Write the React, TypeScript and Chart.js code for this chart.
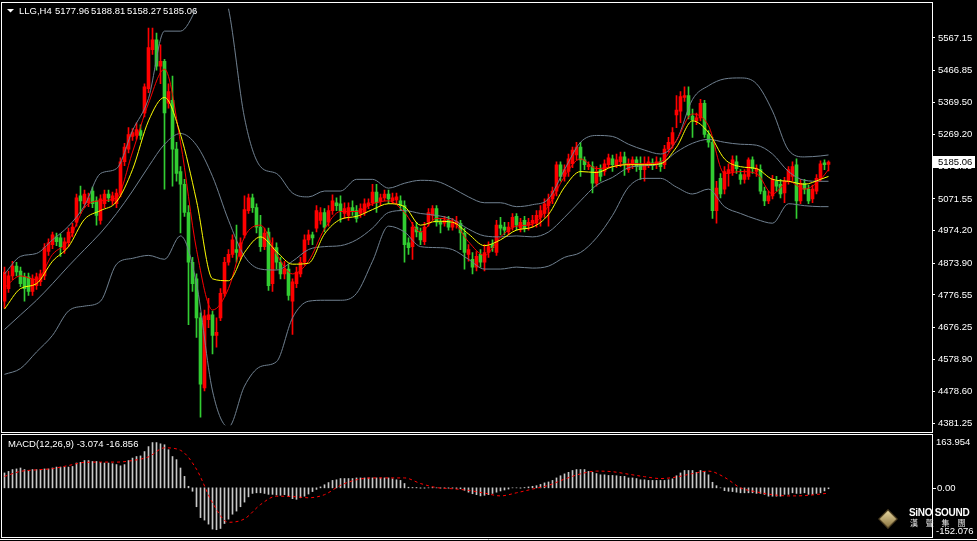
import React, { useEffect, useRef } from 'react';
import { Chart, registerables } from 'chart.js';

Chart.register(...registerables);

// ---------- text ----------
const symbolTitle = 'LLG,H4';
const lastQuote = ['5177.96', '5188.81', '5158.27', '5185.06'];
const macdTitle = 'MACD(12,26,9) -3.074 -16.856';
const logoLatin = 'SiNO SOUND';
const logoCjk = '漢 聲 集 團';

// ---------- candles (H4 bars, oldest first) ----------
const openP = [
  4757, 4796, 4835, 4865, 4850, 4832, 4832, 4787, 4805, 4817,
  4835, 4910, 4931, 4955, 4952, 4916, 4937, 4967, 5000, 5081,
  5057, 5060, 5096, 5066, 5006, 5057, 5087, 5066, 5057, 5090,
  5186, 5225, 5264, 5267, 5282, 5336, 5411, 5531, 5561, 5480,
  5495, 5366, 5375, 5225, 5156, 5117, 5030, 4877, 4826, 4706,
  4490, 4700, 4715, 4652, 4706, 4781, 4877, 4901, 4916, 4895,
  4961, 5036, 5075, 5045, 4985, 4925, 4970, 4811, 4922, 4877,
  4841, 4856, 4757, 4811, 4841, 4877, 4946, 4961, 4982, 5006,
  5030, 5000, 5036, 5060, 5057, 5027, 5021, 5045, 5036, 5027,
  5030, 5051, 5060, 5093, 5066, 5075, 5087, 5066, 5069, 5066,
  5051, 4937, 4925, 4985, 4970, 4940, 5000, 5021, 5042, 5000,
  4997, 5006, 4985, 4994, 4997, 4967, 4901, 4886, 4862, 4901,
  4877, 4907, 4931, 4907, 4991, 4985, 4970, 4985, 5018, 4982,
  5006, 4991, 4997, 4997, 5015, 5027, 5051, 5072, 5096, 5177,
  5141, 5156, 5180, 5207, 5231, 5192, 5171, 5171, 5120, 5162,
  5156, 5177, 5195, 5177, 5186, 5201, 5162, 5177, 5192, 5177,
  5162, 5177, 5183, 5177, 5186, 5177, 5225, 5240, 5330, 5342,
  5384, 5390, 5327, 5312, 5321, 5366, 5270, 5246, 5036, 5135,
  5102, 5150, 5156, 5186, 5147, 5132, 5141, 5192, 5156, 5162,
  5096, 5066, 5081, 5126, 5117, 5090, 5126, 5141, 5177, 5066,
  5120, 5102, 5072, 5096, 5135, 5183, 5177.96,
];
const highP = [
  4862, 4850, 4880, 4877, 4862, 4844, 4844, 4838, 4844, 4853,
  4934, 4949, 4970, 4967, 4964, 4952, 4982, 4997, 5087, 5111,
  5099, 5090, 5108, 5078, 5084, 5099, 5099, 5093, 5102, 5198,
  5243, 5291, 5288, 5306, 5300, 5426, 5597, 5597, 5582, 5546,
  5501, 5426, 5450, 5246, 5171, 5132, 5051, 4892, 4841, 4721,
  4730, 4766, 4727, 4706, 4796, 4892, 4916, 4961, 4991, 4952,
  5081, 5087, 5087, 5057, 5021, 4982, 4982, 4952, 4937, 4892,
  4880, 4871, 4826, 4862, 4892, 4961, 4976, 4970, 5051, 5045,
  5042, 5051, 5084, 5075, 5081, 5060, 5060, 5066, 5051, 5057,
  5072, 5072, 5117, 5117, 5087, 5099, 5099, 5090, 5090, 5081,
  5066, 4952, 5000, 5000, 4982, 5000, 5042, 5051, 5051, 5012,
  5018, 5018, 5012, 5018, 5006, 4982, 4931, 4907, 4910, 4916,
  4931, 4940, 4946, 5006, 5015, 5000, 5000, 5027, 5027, 5012,
  5018, 5012, 5021, 5036, 5051, 5072, 5087, 5108, 5186, 5186,
  5177, 5210, 5231, 5246, 5246, 5201, 5186, 5186, 5171, 5177,
  5192, 5210, 5207, 5210, 5216, 5216, 5195, 5201, 5201, 5201,
  5201, 5201, 5195, 5201, 5198, 5237, 5261, 5291, 5390, 5402,
  5417, 5417, 5348, 5336, 5378, 5375, 5282, 5261, 5126, 5150,
  5171, 5180, 5204, 5204, 5162, 5162, 5198, 5201, 5177, 5177,
  5108, 5096, 5144, 5141, 5132, 5138, 5171, 5186, 5195, 5132,
  5132, 5114, 5114, 5147, 5189, 5192, 5188.81,
];
const lowP = [
  4736, 4784, 4823, 4835, 4802, 4757, 4775, 4775, 4793, 4805,
  4823, 4898, 4919, 4928, 4895, 4904, 4925, 4955, 4988, 5027,
  5045, 5048, 5045, 4991, 4994, 5045, 5063, 5054, 5045, 5078,
  5174, 5213, 5252, 5255, 5255, 5324, 5399, 5516, 5468, 5426,
  5102, 5351, 5111, 5126, 4967, 5018, 4685, 4787, 4646, 4400,
  4481, 4676, 4595, 4616, 4697, 4772, 4868, 4892, 4877, 4886,
  4952, 5027, 5030, 4967, 4910, 4916, 4790, 4787, 4856, 4826,
  4826, 4760, 4655, 4799, 4832, 4868, 4931, 4931, 4970, 4994,
  4970, 4988, 5024, 5036, 5000, 5012, 5006, 5021, 5000, 5015,
  5021, 5042, 5051, 5030, 5051, 5066, 5057, 5057, 5057, 5036,
  4877, 4901, 4886, 4955, 4931, 4931, 4988, 5006, 4988, 4967,
  4988, 4976, 4976, 4982, 4916, 4856, 4880, 4841, 4850, 4862,
  4850, 4892, 4910, 4898, 4961, 4961, 4961, 4976, 4976, 4970,
  4970, 4976, 4985, 4985, 4988, 5015, 4988, 5057, 5081, 5126,
  5126, 5141, 5168, 5192, 5141, 5162, 5162, 5090, 5111, 5126,
  5144, 5168, 5156, 5168, 5171, 5144, 5153, 5165, 5156, 5132,
  5126, 5168, 5162, 5165, 5156, 5165, 5216, 5228, 5291, 5306,
  5372, 5318, 5261, 5300, 5312, 5261, 5231, 5012, 4997, 5075,
  5087, 5111, 5144, 5150, 5117, 5120, 5132, 5150, 5141, 5087,
  5051, 5057, 5072, 5096, 5075, 5060, 5117, 5126, 5012, 5057,
  5087, 5057, 5060, 5087, 5126, 5162, 5158.27,
];
const closeP = [
  4847, 4835, 4865, 4847, 4811, 4796, 4787, 4826, 4832, 4841,
  4922, 4937, 4961, 4940, 4925, 4940, 4970, 4985, 5075, 5066,
  5087, 5075, 5057, 5021, 5072, 5087, 5075, 5081, 5090, 5186,
  5231, 5270, 5276, 5285, 5267, 5417, 5537, 5561, 5480, 5495,
  5336, 5402, 5225, 5150, 5117, 5030, 4877, 4811, 4706, 4502,
  4712, 4715, 4652, 4661, 4781, 4877, 4901, 4946, 4907, 4937,
  5039, 5075, 5045, 4985, 4925, 4967, 4805, 4922, 4877, 4841,
  4856, 4775, 4817, 4847, 4877, 4946, 4961, 4952, 5036, 5030,
  4985, 5036, 5066, 5051, 5036, 5042, 5045, 5036, 5012, 5042,
  5057, 5060, 5093, 5060, 5075, 5087, 5072, 5075, 5078, 5051,
  4931, 4922, 4985, 4970, 4946, 4985, 5030, 5042, 5000, 4994,
  5006, 4985, 4997, 5003, 4967, 4907, 4916, 4862, 4895, 4877,
  4907, 4925, 4922, 4991, 4982, 4976, 4985, 5015, 4991, 5000,
  4982, 5000, 5006, 5021, 5036, 5057, 5072, 5096, 5177, 5141,
  5162, 5195, 5222, 5231, 5192, 5177, 5177, 5120, 5156, 5141,
  5180, 5198, 5177, 5192, 5201, 5177, 5177, 5192, 5171, 5162,
  5177, 5186, 5174, 5186, 5171, 5225, 5246, 5276, 5345, 5387,
  5390, 5330, 5315, 5321, 5366, 5270, 5246, 5036, 5105, 5087,
  5156, 5162, 5192, 5165, 5132, 5147, 5192, 5165, 5165, 5096,
  5066, 5081, 5132, 5111, 5087, 5126, 5162, 5171, 5066, 5120,
  5102, 5066, 5102, 5135, 5180, 5177, 5185.06,
];

// ---------- indicator lines, read at these bar indices ----------
const lineIdx = [
  0, 4, 8, 12, 16, 20, 24, 28, 32, 36, 40, 44, 48, 52, 56, 60, 64, 68, 72, 76,
  80, 84, 88, 92, 96, 100, 104, 108, 112, 116, 120, 124, 128, 132, 136, 140, 144, 148, 152, 156,
  160, 164, 168, 172, 176, 180, 184, 188, 192, 196, 200, 204, 206,
];
const bbUpper = [
  4841, 4895, 4904, 4946, 4988, 5051, 5150, 5165, 5282, 5381, 5588, 5588, 5660, 5786, 5657, 5321, 5171, 5150, 5090, 5078,
  5096, 5096, 5132, 5132, 5105, 5120, 5129, 5126, 5105, 5078, 5060, 5060, 5048, 5054, 5072, 5162, 5246, 5267, 5264, 5240,
  5222, 5210, 5252, 5378, 5420, 5441, 5444, 5426, 5342, 5222, 5201, 5204, 5207,
];
const bbMiddle = [
  4670, 4715, 4760, 4811, 4865, 4916, 4967, 5027, 5096, 5171, 5240, 5273, 5237, 5141, 5006, 4895, 4856, 4853, 4880, 4916,
  4925, 4928, 4946, 4982, 5030, 5036, 5027, 5021, 5009, 4979, 4958, 4955, 4958, 4955, 4970, 5015, 5066, 5114, 5138, 5168,
  5174, 5180, 5216, 5243, 5255, 5246, 5240, 5237, 5210, 5156, 5129, 5126, 5126,
];
const bbLower = [
  4532, 4550, 4601, 4652, 4727, 4742, 4757, 4871, 4889, 4898, 4886, 4958, 4811, 4481, 4370, 4496, 4556, 4571, 4706, 4757,
  4760, 4760, 4781, 4880, 4988, 4970, 4925, 4922, 4916, 4886, 4856, 4856, 4862, 4859, 4865, 4892, 4907, 4952, 5021, 5108,
  5135, 5135, 5108, 5087, 5102, 5048, 5027, 5009, 4997, 5057, 5051, 5048, 5048,
];
const maFast = [
  4799, 4835, 4823, 4901, 4943, 5045, 5066, 5075, 5216, 5366, 5471, 5246, 4916, 4730, 4796, 4955, 4991, 4901, 4841, 4880,
  4979, 5033, 5033, 5057, 5066, 5030, 4970, 5012, 5003, 4940, 4898, 4955, 4988, 4994, 5051, 5141, 5195, 5165, 5171, 5180,
  5180, 5186, 5252, 5333, 5297, 5150, 5156, 5150, 5087, 5126, 5102, 5132, 5162,
];
const maSlow = [
  4733, 4796, 4811, 4880, 4925, 5009, 5036, 5063, 5162, 5312, 5384, 5270, 5066, 4826, 4820, 4907, 4955, 4910, 4871, 4874,
  4964, 5009, 5018, 5039, 5057, 5048, 4991, 5003, 5000, 4964, 4928, 4946, 4976, 4985, 5024, 5108, 5156, 5153, 5171, 5177,
  5177, 5180, 5231, 5312, 5276, 5195, 5171, 5165, 5132, 5126, 5117, 5132, 5141,
];

// ---------- MACD(12,26,9) ----------
const macdHist = [
  48, 53, 59, 61, 64, 59, 56, 59, 59, 59, 61, 61, 64, 67, 67, 67, 67, 69, 80, 82,
  88, 88, 85, 85, 82, 80, 80, 78, 75, 71, 75, 88, 96, 101, 103, 117, 133, 146, 146, 142,
  139, 123, 101, 91, 64, 37, 5, -11, -61, -96, -104, -117, -133, -135, -131, -115, -101, -85, -75, -61,
  -46, -29, -18, -16, -16, -18, -21, -21, -23, -24, -22, -27, -35, -37, -32, -27, -20, -12, -5, 3,
  10, 17, 24, 26, 30, 30, 30, 30, 32, 32, 32, 32, 32, 32, 32, 32, 32, 29, 26, 24,
  14, 2, 1, 1, -1, -1, 0, 1, 0, -1, -1, -1, -1, -2, -3, -8, -14, -19, -22, -26,
  -24, -22, -18, -14, -10, -7, -4, 0, 0, -1, 1, 3, 5, 7, 11, 16, 19, 24, 32, 39,
  45, 50, 56, 59, 59, 59, 53, 50, 46, 42, 42, 40, 40, 39, 37, 37, 32, 32, 30, 26,
  26, 24, 24, 24, 24, 24, 26, 29, 39, 48, 56, 56, 56, 50, 56, 53, 42, 18, 7, 0,
  -9, -11, -12, -14, -16, -16, -16, -16, -18, -18, -21, -27, -27, -27, -27, -21, -21, -16, -18, -18,
  -16, -21, -21, -18, -16, -10, -3.074,
];
const macdSignal = [
  37, 53, 58, 62, 72, 82, 83, 83, 88, 100, 129, 121, 60, -48, -111, -100, -54, -27, -28, -32,
  -22, 8, 26, 32, 32, 32, 14, 1, -3, -8, -17, -26, -16, -4, 8, 28, 45, 54, 52, 44,
  36, 30, 35, 46, 54, 34, 0, -13, -22, -26, -25, -20, -16.856,
];

// ---------- axes ----------
const priceTicks = [5567.15, 5466.85, 5369.5, 5269.2, 5171.85, 5071.55, 4974.2, 4873.9, 4776.55, 4676.25, 4578.9, 4478.6, 4381.25];
const priceMin = 4375.3;
const priceMax = 5657.0;
const macdMax = 163.954;
const macdMin = -152.076;
const macdLabels = ['163.954', '0.00', '-152.076'];
const barMin = -0.375;
const barMax = 231.875;

const RED = '#ff0000';
const GREEN = '#32cd32';
const BAND = '#708090';
const FONT = "'Liberation Sans', Arial, sans-serif";
const FSIZE = 9.5;

export default function App() {
  const mainRef = useRef<HTMLCanvasElement>(null);
  const macdRef = useRef<HTMLCanvasElement>(null);

  useEffect(() => {
    document.body.style.margin = '0';
    document.body.style.background = '#000';
    const idx = closeP.map((_, i) => i);
    const colors = idx.map((i) => (closeP[i] >= openP[i] ? RED : GREEN));
    const line = (vals: number[], color: string, order: number, extra: any = {}) => ({
      type: 'line',
      data: lineIdx.map((x, k) => ({ x, y: vals[k] })),
      borderColor: color,
      borderWidth: 1,
      pointRadius: 0,
      cubicInterpolationMode: 'monotone',
      order,
      ...extra,
    });

    const mainDecor = {
      id: 'mainDecor',
      afterDraw(chart: any) {
        const { ctx } = chart;
        ctx.save();
        ctx.strokeStyle = '#ffffff';
        ctx.lineWidth = 1;
        ctx.strokeRect(1.5, 2.5, 931, 430);
        ctx.fillStyle = '#ffffff';
        ctx.beginPath();
        ctx.moveTo(7, 9);
        ctx.lineTo(14, 9);
        ctx.lineTo(10.5, 12.5);
        ctx.closePath();
        ctx.fill();
        ctx.font = `${FSIZE}px ${FONT}`;
        ctx.textBaseline = 'middle';
        ctx.textAlign = 'left';
        ctx.fillText(symbolTitle, 19, 11);
        lastQuote.forEach((q, k) => ctx.fillText(q, 55 + k * 36, 11));
        const last = closeP[closeP.length - 1];
        const y = Math.round(chart.scales.y.getPixelForValue(last));
        ctx.fillStyle = '#ffffff';
        ctx.fillRect(933, y - 6, 42, 12);
        ctx.fillStyle = '#000000';
        ctx.fillText(last.toFixed(2), 938, y + 0.5);
        ctx.restore();
      },
    };

    const main = new Chart(mainRef.current as HTMLCanvasElement, {
      type: 'bar',
      data: {
        datasets: [
          line(bbUpper, BAND, 1),
          line(bbMiddle, BAND, 1),
          line(bbLower, BAND, 1),
          line(maSlow, '#ffff00', 0),
          line(maFast, RED, 0),
          {
            type: 'bar',
            data: idx.map((i) => ({ x: i, y: [lowP[i], highP[i]] })),
            backgroundColor: colors,
            barThickness: 1,
            grouped: false,
            borderWidth: 0,
            order: 3,
          },
          {
            type: 'bar',
            data: idx.map((i) => ({ x: i, y: [Math.min(openP[i], closeP[i]), Math.max(openP[i], closeP[i])] })),
            backgroundColor: colors,
            barThickness: 3,
            grouped: false,
            borderWidth: 0,
            order: 2,
          },
        ] as any,
      },
      options: {
        animation: false,
        responsive: false,
        maintainAspectRatio: false,
        devicePixelRatio: 1,
        events: [],
        layout: { padding: { left: 3, right: 0, top: 3, bottom: 3 } },
        plugins: { legend: { display: false }, tooltip: { enabled: false }, title: { display: false } },
        scales: {
          x: { type: 'linear', min: barMin, max: barMax, display: false, offset: false, grid: { offset: false } },
          y: {
            type: 'linear',
            position: 'right',
            min: priceMin,
            max: priceMax,
            beginAtZero: false,
            afterBuildTicks: (s: any) => {
              s.ticks = priceTicks.map((v) => ({ value: v }));
            },
            afterFit: (s: any) => {
              s.width = 45;
            },
            ticks: {
              autoSkip: false,
              color: '#ffffff',
              padding: 3,
              font: { family: FONT, size: FSIZE },
              callback: (v: any) => Number(v).toFixed(2),
            },
            grid: { drawOnChartArea: false, drawTicks: true, tickLength: 3, color: '#ffffff' },
            border: { display: false },
          },
        },
      } as any,
      plugins: [mainDecor],
    });

    const macdDecor = {
      id: 'macdDecor',
      afterDraw(chart: any) {
        const { ctx } = chart;
        const ys = chart.scales.y;
        ctx.save();
        ctx.strokeStyle = '#ffffff';
        ctx.lineWidth = 1;
        ctx.strokeRect(1.5, 1.5, 931, 103);
        ctx.beginPath();
        ctx.moveTo(0, 106.5);
        ctx.lineTo(977, 106.5);
        ctx.stroke();
        ctx.fillStyle = '#ffffff';
        ctx.font = `${FSIZE}px ${FONT}`;
        ctx.textBaseline = 'middle';
        ctx.textAlign = 'left';
        ctx.fillText(macdTitle, 8, 11);
        const y0 = Math.round(ys.getPixelForValue(0));
        ctx.fillRect(933, y0, 3, 1);
        ctx.fillText(macdLabels[0], 936, Math.round(ys.getPixelForValue(macdMax)) + 5);
        ctx.fillText(macdLabels[1], 937, y0 + 0.5);
        ctx.fillText(macdLabels[2], 936, Math.round(ys.getPixelForValue(macdMin)) - 4);
        ctx.restore();
      },
    };

    const macd = new Chart(macdRef.current as HTMLCanvasElement, {
      type: 'bar',
      data: {
        datasets: [
          line(macdSignal, RED, 0, { borderDash: [3, 3] }),
          {
            type: 'bar',
            data: idx.map((i) => ({ x: i, y: macdHist[i] })),
            backgroundColor: '#c8c8c8',
            barThickness: 1,
            grouped: false,
            borderWidth: 0,
            order: 1,
          },
        ] as any,
      },
      options: {
        animation: false,
        responsive: false,
        maintainAspectRatio: false,
        devicePixelRatio: 1,
        events: [],
        layout: { padding: { left: 3, right: 45, top: 4, bottom: 6 } },
        plugins: { legend: { display: false }, tooltip: { enabled: false }, title: { display: false } },
        scales: {
          x: { type: 'linear', min: barMin, max: barMax, display: false, offset: false, grid: { offset: false } },
          y: { type: 'linear', min: macdMin, max: macdMax, display: false, beginAtZero: false },
        },
      } as any,
      plugins: [macdDecor],
    });

    return () => {
      main.destroy();
      macd.destroy();
    };
  }, []);

  return (
    <div style={{ position: 'relative', width: 977, height: 541, background: '#000', overflow: 'hidden' }}>
      <canvas ref={mainRef} width={977} height={434} style={{ position: 'absolute', left: 0, top: 0, display: 'block' }} />
      <canvas ref={macdRef} width={977} height={108} style={{ position: 'absolute', left: 0, top: 433, display: 'block' }} />
      <div
        style={{
          position: 'absolute', left: 881, top: 512, width: 12, height: 12, transform: 'rotate(45deg)',
          background: 'linear-gradient(135deg, #e8d8a0, #8a7440)', border: '1px solid #5a4a28',
        }}
      />
      <div
        style={{
          position: 'absolute', left: 909, top: 507, color: '#ffffff', fontFamily: "'Liberation Sans', Arial, sans-serif",
          fontWeight: 'bold', fontSize: 10, lineHeight: '11px', whiteSpace: 'nowrap', letterSpacing: '-0.3px',
        }}
      >
        {logoLatin}
      </div>
      <div
        style={{
          position: 'absolute', left: 910, top: 518, color: '#e8e8e8', fontFamily: "'Noto Sans CJK TC', 'Noto Sans CJK SC', sans-serif",
          fontSize: 8, lineHeight: '9px', whiteSpace: 'nowrap', letterSpacing: '3px',
        }}
      >
        {logoCjk}
      </div>
    </div>
  );
}
